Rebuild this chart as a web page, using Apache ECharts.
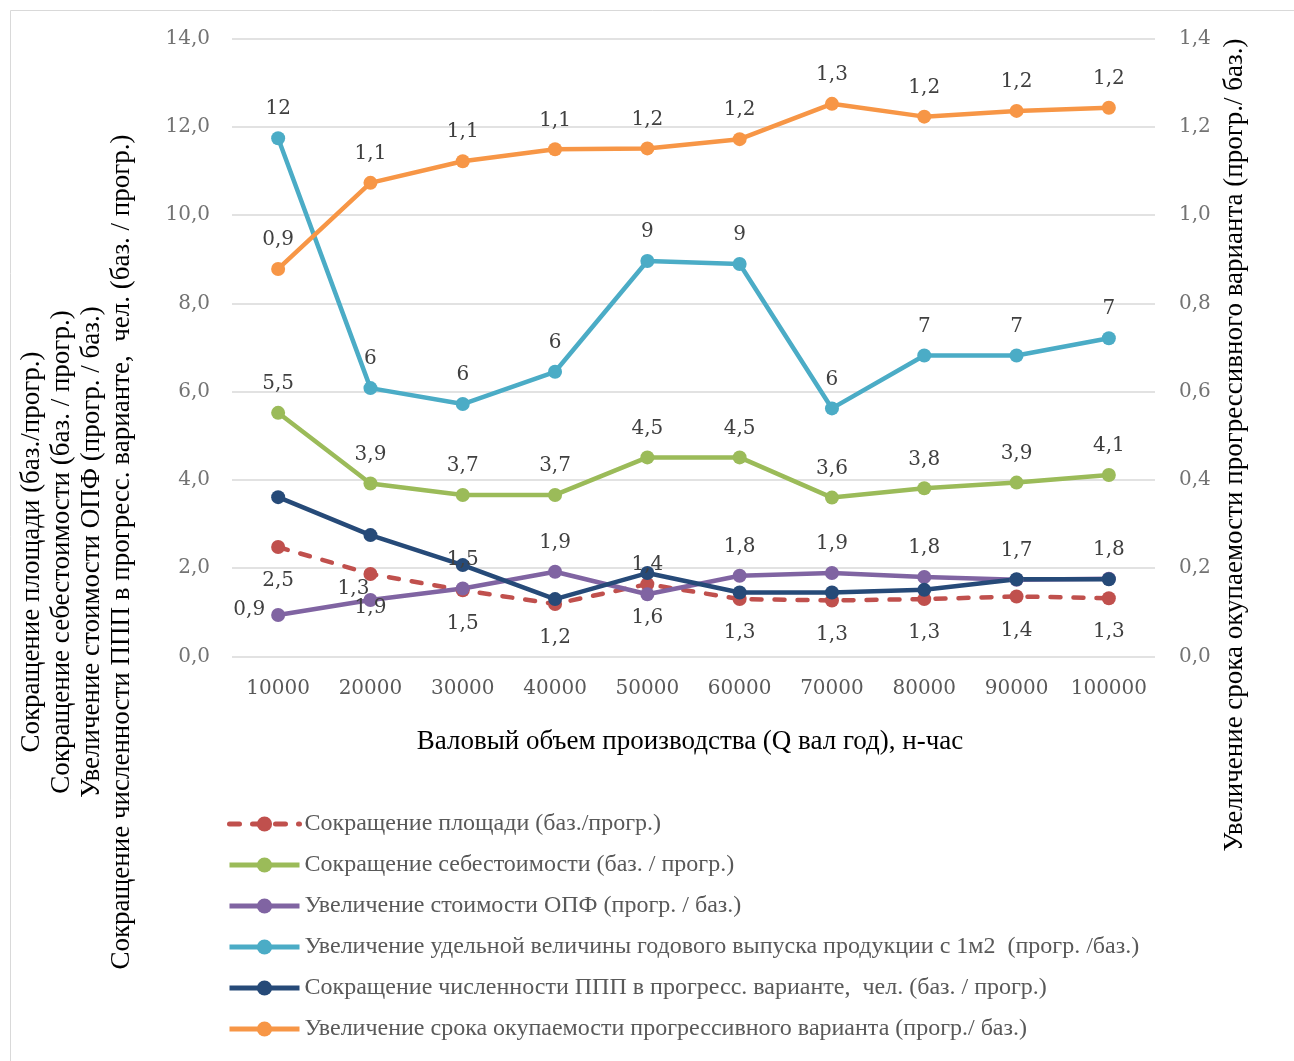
<!DOCTYPE html>
<html>
<head>
<meta charset="utf-8">
<script src="https://cdn.jsdelivr.net/npm/echarts@6/dist/echarts.min.js"></script>
<style>
html,body{margin:0;padding:0;background:#fff;}
#chart{width:1294px;height:1061px;}
</style>
</head>
<body>
<div id="chart"></div>
<script>
// ---- data ----
const categories = ['10000','20000','30000','40000','50000','60000','70000','80000','90000','100000'];
const seriesNames = [
  'Сокращение площади (баз./прогр.)',
  'Сокращение себестоимости (баз. / прогр.)',
  'Увеличение стоимости ОПФ (прогр. / баз.)',
  'Увеличение удельной величины годового выпуска продукции с 1м2  (прогр. /баз.)',
  'Сокращение численности ППП в прогресс. варианте,  чел. (баз. / прогр.)',
  'Увеличение срока окупаемости прогрессивного варианта (прогр./ баз.)'
];
const areaReduction   = [2.48, 1.87, 1.50, 1.19, 1.64, 1.30, 1.27, 1.30, 1.36, 1.32];
const costReduction   = [5.52, 3.92, 3.66, 3.66, 4.51, 4.51, 3.60, 3.81, 3.94, 4.11];
const opfIncrease     = [0.94, 1.28, 1.54, 1.92, 1.41, 1.83, 1.89, 1.80, 1.74, 1.76];
const outputIncrease  = [11.74, 6.08, 5.72, 6.45, 8.96, 8.89, 5.62, 6.82, 6.82, 7.21];
const staffReduction  = [3.61, 2.75, 2.07, 1.30, 1.89, 1.45, 1.45, 1.51, 1.75, 1.75];
const paybackIncrease = [0.878, 1.073, 1.122, 1.149, 1.151, 1.172, 1.252, 1.223, 1.236, 1.243];

const leftTitleLines = [
  'Сокращение площади (баз./прогр.)',
  'Сокращение себестоимости (баз. / прогр.)',
  'Увеличение стоимости ОПФ (прогр. / баз.)',
  'Сокращение численности ППП в прогресс. варианте,  чел. (баз. / прогр.)'
];
const rightTitle = 'Увеличение срока окупаемости прогрессивного варианта (прогр./ баз.)';
const xTitle = 'Валовый объем производства (Q вал год), н-час';

const colors = ['#C0504D', '#9BBB59', '#8064A2', '#4BACC6', '#264A78', '#F79646'];

// ---- chart ----
const numFont = 'DejaVu Serif';
const txtFont = 'Liberation Serif';
const fmt1 = v => v.toFixed(1).replace('.', ',');
const lblBase = {show: true, fontFamily: numFont, fontSize: 20, color: '#404040'};

function mkSeries(i, data, extra) {
  return Object.assign({
    name: seriesNames[i], type: 'line', data: data,
    symbol: 'circle', symbolSize: 14,
    lineStyle: {width: 4.5, color: colors[i]},
    itemStyle: {color: colors[i]},
    emphasis: {disabled: true},
    animation: false
  }, extra || {});
}

const opfData = opfIncrease.map((v, i) => {
  if (i === 0) return {value: v, label: {position: 'left', distance: 6, offset: [0, -5]}};
  if (i === 1) return {value: v, label: {position: 'top', offset: [-17, 18]}};
  return v;
});

const series = [
  mkSeries(0, areaReduction, {
    lineStyle: {width: 4.5, color: colors[0], type: [10, 13], cap: 'round'},
    label: Object.assign({}, lblBase, {position: 'bottom', distance: 17, formatter: p => fmt1(p.value)})
  }),
  mkSeries(1, costReduction, {
    label: Object.assign({}, lblBase, {position: 'top', distance: 12, formatter: p => fmt1(p.value)})
  }),
  mkSeries(2, opfData, {
    label: Object.assign({}, lblBase, {position: 'top', distance: 12, formatter: p => fmt1(p.value)})
  }),
  mkSeries(3, outputIncrease, {
    label: Object.assign({}, lblBase, {position: 'top', distance: 12, formatter: p => String(Math.round(p.value))})
  }),
  mkSeries(4, staffReduction, {}),
  mkSeries(5, paybackIncrease, {
    yAxisIndex: 1,
    label: Object.assign({}, lblBase, {position: 'top', distance: 12, formatter: p => fmt1(p.value)})
  })
];

const titleFont = '27px "Liberation Serif"';
const graphic = [
  {type: 'rect', shape: {x: 10.5, y: 10.5, width: 1300, height: 1080}, style: {fill: 'none', stroke: '#d9d9d9', lineWidth: 1}, silent: true},
  {type: 'text', x: 690, y: 742, style: {text: xTitle, font: titleFont, fill: '#000', align: 'center', verticalAlign: 'middle'}},
  {type: 'text', x: 1235, y: 445, rotation: Math.PI / 2, style: {text: rightTitle, font: titleFont, fill: '#000', align: 'center', verticalAlign: 'middle'}}
];
const leftX = [32, 62, 92, 122];
leftTitleLines.forEach((t, i) => {
  graphic.push({type: 'text', x: leftX[i], y: 552, rotation: Math.PI / 2,
    style: {text: t, font: titleFont, fill: '#000', align: 'center', verticalAlign: 'middle'}});
});

const option = {
  backgroundColor: '#fff',
  animation: false,
  color: colors,
  grid: {left: 232, right: 139, top: 38.5, bottom: 404.5, containLabel: false},
  legend: {
    orient: 'vertical', left: 227, top: 812, padding: 0,
    itemWidth: 70, itemHeight: 19, itemGap: 17,
    lineStyle: {width: 5},
    textStyle: {fontFamily: txtFont, fontSize: 24, color: '#595959', lineHeight: 24, padding: [0, 0, 0, 0]},
    data: seriesNames,
    selectedMode: false
  },
  xAxis: {
    type: 'category', data: categories, boundaryGap: true,
    axisLine: {show: false}, axisTick: {show: false},
    axisLabel: {interval: 0, fontFamily: numFont, fontSize: 20, color: '#595959', margin: 22}
  },
  yAxis: [
    {type: 'value', min: 0, max: 14, interval: 2,
      axisLine: {show: false}, axisTick: {show: false},
      splitLine: {lineStyle: {color: '#d9d9d9', width: 1.5}},
      axisLabel: {fontFamily: numFont, fontSize: 20, color: '#737373', margin: 22, formatter: fmt1}},
    {type: 'value', min: 0, max: 1.4, interval: 0.2, position: 'right',
      axisLine: {show: false}, axisTick: {show: false},
      splitLine: {show: false},
      axisLabel: {fontFamily: numFont, fontSize: 20, color: '#737373', margin: 24, formatter: fmt1}}
  ],
  series: series,
  graphic: graphic
};

const chart = echarts.init(document.getElementById('chart'), null, {renderer: 'canvas'});
chart.setOption(option);
</script>
</body>
</html>
